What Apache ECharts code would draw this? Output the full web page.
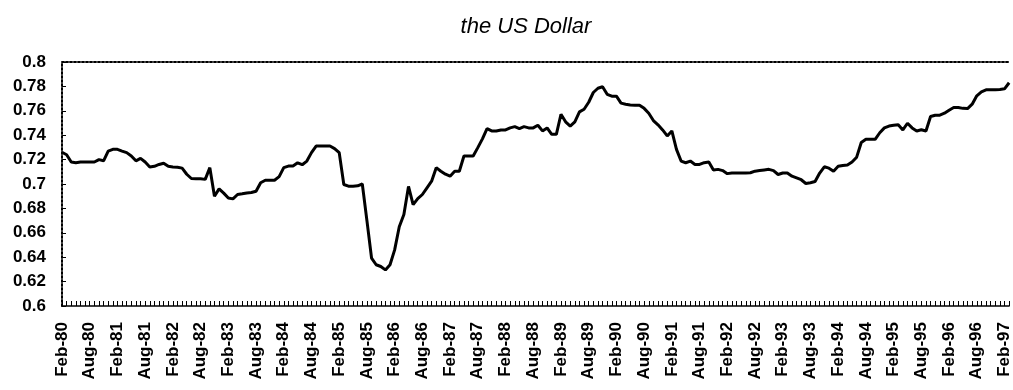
<!DOCTYPE html>
<html>
<head>
<meta charset="utf-8">
<script src="https://cdn.jsdelivr.net/npm/echarts@6/dist/echarts.min.js"></script>
<style>
  html, body { margin: 0; padding: 0; background: #fff; }
  #chart { width: 1013px; height: 390px; }
</style>
</head>
<body>
<div id="chart"></div>
<script>
// Monthly exchange rate, Feb-80 through Mar-97
const monthNames = ['Jan', 'Feb', 'Mar', 'Apr', 'May', 'Jun', 'Jul', 'Aug', 'Sep', 'Oct', 'Nov', 'Dec'];
const startYear = 80;
const startMonth = 1; // Feb
const yTicks = [0.6, 0.62, 0.64, 0.66, 0.68, 0.7, 0.72, 0.74, 0.76, 0.78, 0.8];

const rates = [
  0.726, 0.724, 0.718, 0.7175, 0.718, 0.718, 0.718, 0.718, 0.720, 0.719,
  0.727, 0.7284, 0.7284, 0.727, 0.7257, 0.723, 0.719, 0.721, 0.718, 0.714,
  0.7145, 0.716, 0.717, 0.7145, 0.714, 0.7138, 0.713, 0.708, 0.7045, 0.7043,
  0.7043, 0.7038, 0.7134, 0.690, 0.696, 0.6925, 0.6885, 0.6878, 0.6914, 0.692,
  0.6927, 0.693, 0.694, 0.701, 0.7031, 0.7031, 0.7031, 0.706, 0.7134, 0.7147,
  0.7147, 0.7174, 0.7158, 0.7188, 0.7257, 0.7311, 0.7311, 0.7311, 0.7311, 0.729,
  0.7257, 0.6996, 0.6982, 0.6982, 0.6985, 0.700, 0.670, 0.6393, 0.6338, 0.6324,
  0.6296, 0.6338, 0.646, 0.665, 0.675, 0.698, 0.6831, 0.688, 0.6914, 0.6969,
  0.7023, 0.7134, 0.7105, 0.708, 0.7064, 0.7105, 0.7105, 0.7229, 0.7229, 0.7229,
  0.7298, 0.737, 0.7454, 0.7435, 0.7435, 0.7443, 0.7443, 0.746, 0.747, 0.7454,
  0.747, 0.746, 0.746, 0.7482, 0.7435, 0.746, 0.7407, 0.7407, 0.7572, 0.751,
  0.7475, 0.751, 0.7591, 0.7613, 0.767, 0.775, 0.7785, 0.7797, 0.7735, 0.772,
  0.772, 0.7663, 0.7654, 0.7648, 0.7646, 0.7646, 0.762, 0.758, 0.752, 0.7485,
  0.7443, 0.7394, 0.7435, 0.7284, 0.7188, 0.7174, 0.7188, 0.716, 0.716, 0.7175,
  0.718, 0.7114, 0.712, 0.711, 0.7085, 0.709, 0.709, 0.709, 0.709, 0.7092,
  0.7105, 0.711, 0.7115, 0.712, 0.711, 0.7078, 0.709, 0.709, 0.7064, 0.705,
  0.7035, 0.7004, 0.701, 0.702, 0.709, 0.7141, 0.713, 0.7105, 0.7145, 0.7152,
  0.7155, 0.718, 0.722, 0.734, 0.7366, 0.7366, 0.7366, 0.742, 0.746, 0.7475,
  0.7481, 0.7485, 0.7443, 0.7498, 0.746, 0.7435, 0.7445, 0.7435, 0.7553, 0.7564,
  0.7564, 0.758, 0.7605, 0.7627, 0.7627, 0.762, 0.7618, 0.7654, 0.7723, 0.7756,
  0.7772, 0.7772, 0.7772, 0.7775, 0.778, 0.783
];

// Month labels such as "Feb-80", one per value
const months = rates.map((_, i) => {
  const m = startMonth + i;
  const yr = (startYear + Math.floor(m / 12)) % 100;
  return monthNames[m % 12] + '-' + String(yr).padStart(2, '0');
});

const FONT = '"Liberation Sans", Arial, sans-serif';

const chart = echarts.init(document.getElementById('chart'), null, { renderer: 'canvas' });
chart.setOption({
  backgroundColor: '#fff',
  animation: false,
  title: {
    text: 'the US Dollar',
    left: 521,
    top: 11,
    textAlign: 'center',
    textStyle: { fontFamily: FONT, fontSize: 22, fontStyle: 'italic', fontWeight: 'normal', color: '#000' }
  },
  grid: { left: 62, right: 0, top: 62, bottom: 84, containLabel: false },
  xAxis: [
    {
      type: 'category',
      data: months,
      boundaryGap: false,
      axisLine: { lineStyle: { color: '#000', width: 1.5 } },
      axisTick: { show: true, inside: true, length: 5, interval: 0, lineStyle: { color: '#000', width: 1 } },
      axisLabel: {
        interval: 5,
        rotate: 90,
        margin: 16,
        fontFamily: FONT,
        fontSize: 17,
        fontWeight: 'bold',
        color: '#000'
      },
      splitLine: { show: false }
    },
    {
      type: 'category',
      data: months,
      boundaryGap: false,
      position: 'top',
      axisLine: { lineStyle: { color: '#000', width: 2, type: 'dotted' } },
      axisTick: { show: false },
      axisLabel: { show: false },
      splitLine: { show: false }
    }
  ],
  yAxis: {
    type: 'value',
    min: yTicks[0],
    max: yTicks[yTicks.length - 1],
    interval: 0.02,
    axisLine: { show: true, lineStyle: { color: '#000', width: 2, type: 'dotted' } },
    axisTick: { show: true, inside: true, length: 4, lineStyle: { color: '#000', width: 1 } },
    axisLabel: {
      margin: 16,
      fontFamily: FONT,
      fontSize: 17,
      fontWeight: 'bold',
      color: '#000',
      formatter: v => String(+v.toFixed(2))
    },
    splitLine: { show: false }
  },
  series: [{
    type: 'line',
    data: rates,
    symbol: 'none',
    lineStyle: { color: '#000', width: 3 },
    clip: true
  }]
});
</script>
</body>
</html>
